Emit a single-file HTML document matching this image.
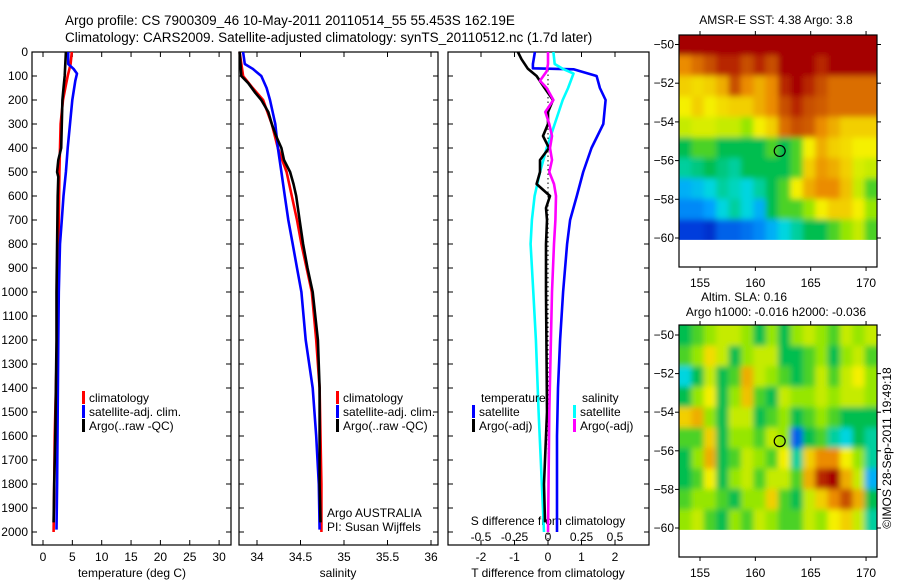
<!DOCTYPE html>
<html><head><meta charset="utf-8"><style>
body{margin:0;background:#fff;width:900px;height:580px;overflow:hidden}
svg{font-family:"Liberation Sans",sans-serif;font-size:12px}
</style></head><body>
<svg id="fig" width="900" height="580" viewBox="0 0 900 580" xmlns="http://www.w3.org/2000/svg">
<defs><filter id="bl" x="-5%" y="-5%" width="110%" height="110%"><feGaussianBlur stdDeviation="3"/></filter></defs>
<text x="65" y="25" font-size="13.5">Argo profile: CS 7900309_46 10-May-2011 20110514_55 55.453S 162.19E</text>
<text x="65" y="42" font-size="13.5">Climatology: CARS2009. Satellite-adjusted climatology: synTS_20110512.nc (1.7d later)</text>
<g id="g"></g>
</svg>
<script>
// ---------- data ----------
const tDepth=[0,50,100,150,200,300,400,500,600,700,800,1000,1200,1400,1600,1800,2000];
const tClim=[4.9,4.7,4.2,3.8,3.4,3.0,2.9,2.8,2.75,2.7,2.65,2.6,2.4,2.2,2.0,1.9,1.8];
const tSatDepth=[0,50,70,90,120,200,300,400,500,600,700,800,1000,1200,1500,1800,1990];
const tSat=[4.3,4.3,5.2,5.8,5.5,5.0,4.6,4.2,3.9,3.5,3.2,2.9,2.7,2.6,2.5,2.4,2.3];
const tArgoDepth=[0,100,150,200,300,400,450,500,520,600,800,1000,1200,1400,1600,1800,1960];
const tArgo=[3.9,3.7,3.5,3.3,3.2,3.1,2.6,2.4,2.6,2.5,2.4,2.3,2.3,2.2,2.1,1.9,1.8];
const sDepth=[0,100,150,200,300,400,500,600,700,800,900,1000,1200,1400,1600,1800,2000];
const sClim=[33.80,33.84,33.95,34.07,34.17,34.24,34.34,34.40,34.46,34.51,34.57,34.63,34.68,34.72,34.73,34.74,34.74];
const sSatDepth=[0,50,70,100,150,200,300,400,500,600,700,800,900,1000,1200,1400,1600,1800,1990];
const sSat=[33.84,33.86,33.95,34.05,34.11,34.15,34.21,34.24,34.28,34.32,34.36,34.41,34.46,34.51,34.56,34.64,34.68,34.71,34.72];
const sArgoDepth=[0,100,130,170,200,250,300,350,400,450,500,550,600,650,700,800,900,1000,1200,1400,1600,1800,1960];
const sArgo=[33.80,33.82,33.90,33.98,34.05,34.13,34.17,34.22,34.28,34.31,34.38,34.42,34.45,34.47,34.49,34.53,34.58,34.64,34.70,34.72,34.72,34.72,34.73];
const dTSatDepth=[0,50,68,72,100,150,200,300,400,500,600,700,800,1000,1200,1400,1600,2000];
const dTSat=[-0.39,-0.45,-0.45,0.76,1.45,1.55,1.72,1.65,1.30,1.05,0.86,0.66,0.57,0.45,0.36,0.30,0.27,0.27];
const dSSatDepth=[0,50,70,90,150,200,300,400,500,600,700,800,1000,1200,1500,2000];
const dSSat=[0.04,0.05,0.11,0.19,0.15,0.11,0.05,-0.01,-0.06,-0.10,-0.12,-0.13,-0.11,-0.09,-0.07,-0.03];
const dTArgoDepth=[0,30,70,100,150,200,250,300,350,400,450,500,550,600,650,700,800,1000,1500,1800,1960];
const dTArgo=[-0.9,-0.79,-0.6,-0.34,-0.1,0.15,0,0,-0.15,0.03,-0.24,-0.24,-0.34,0.06,-0.06,-0.03,-0.06,-0.06,-0.03,-0.12,-0.09];
const dSArgoDepth=[0,50,80,120,150,200,250,300,350,400,450,500,550,600,700,800,1000,1500,2000];
const dSArgo=[0,0,-0.01,-0.06,-0.01,0.04,-0.02,0.01,0.03,0.015,0.03,0.01,0.045,0.06,0.055,0.045,0.03,0.01,0];
const depthTicks=[0,100,200,300,400,500,600,700,800,900,1000,1100,1200,1300,1400,1500,1600,1700,1800,1900,2000];
const tTicks=[0,5,10,15,20,25,30];
const sTicks=[34,34.5,35,35.5,36];
const dTTicks=[-2,-1,0,1,2];
const dSTicks=[-0.5,-0.25,0,0.25,0.5];
const latTicks=[-50,-52,-54,-56,-58,-60];
const lonTicks=[155,160,165,170];
const sstGrid=[
[1,1,1,1,1,1,1,1,1,1,1,1,1,1,1,1],
[0.8,0.85,0.9,0.95,0.95,0.9,0.95,0.9,1,1,1,0.95,1,1,1,1],
[0.7,0.68,0.7,0.75,0.9,0.8,0.75,0.8,0.95,1,0.95,0.9,0.85,0.85,0.85,0.85],
[0.65,0.7,0.65,0.68,0.7,0.7,0.75,0.8,0.9,0.95,0.9,0.88,0.85,0.85,0.85,0.85],
[0.6,0.62,0.62,0.6,0.6,0.55,0.65,0.7,0.85,0.9,0.88,0.8,0.75,0.7,0.7,0.7],
[0.45,0.5,0.5,0.45,0.45,0.45,0.45,0.5,0.45,0.5,0.65,0.75,0.7,0.68,0.65,0.65],
[0.4,0.42,0.45,0.42,0.4,0.45,0.45,0.45,0.45,0.5,0.7,0.78,0.75,0.7,0.62,0.6],
[0.3,0.32,0.35,0.4,0.38,0.35,0.4,0.45,0.5,0.65,0.75,0.8,0.8,0.72,0.6,0.5],
[0.25,0.25,0.28,0.35,0.4,0.35,0.3,0.45,0.5,0.5,0.55,0.65,0.7,0.7,0.65,0.55],
[0.15,0.15,0.12,0.2,0.2,0.22,0.25,0.3,0.35,0.4,0.45,0.45,0.5,0.55,0.6,0.5]];
const slaGrid=[
[0.45,0.5,0.55,0.6,0.6,0.55,0.45,0.55,0.45,0.55,0.6,0.55,0.5,0.6,0.55,0.6],
[0.5,0.55,0.68,0.6,0.45,0.55,0.6,0.6,0.45,0.45,0.5,0.55,0.45,0.55,0.6,0.5],
[0.35,0.45,0.6,0.45,0.5,0.75,0.6,0.55,0.5,0.45,0.5,0.6,0.5,0.6,0.65,0.55],
[0.45,0.55,0.65,0.45,0.55,0.72,0.5,0.45,0.6,0.55,0.55,0.6,0.55,0.6,0.6,0.55],
[0.7,0.75,0.55,0.45,0.6,0.6,0.45,0.5,0.55,0.45,0.5,0.55,0.5,0.45,0.45,0.45],
[0.5,0.5,0.7,0.45,0.55,0.55,0.5,0.6,0.55,0.2,0.45,0.5,0.4,0.35,0.45,0.4],
[0.45,0.55,0.75,0.45,0.5,0.6,0.55,0.5,0.65,0.4,0.7,0.8,0.8,0.65,0.55,0.4],
[0.45,0.5,0.65,0.45,0.55,0.6,0.5,0.6,0.6,0.5,0.75,0.95,1,0.75,0.6,0.3],
[0.5,0.55,0.55,0.5,0.45,0.55,0.55,0.7,0.5,0.45,0.6,0.7,0.8,0.9,0.75,0.45],
[0.55,0.6,0.5,0.45,0.55,0.5,0.6,0.55,0.5,0.5,0.6,0.55,0.65,0.7,0.6,0.4]];
const argoPos=[162.2,-55.5];

// ---------- drawing ----------
const NS='http://www.w3.org/2000/svg';
const G=document.getElementById('g');
const DEFS=document.querySelector('defs');
function mk(tag,at,parent){const e=document.createElementNS(NS,tag);for(const k in at)e.setAttribute(k,at[k]);(parent||G).appendChild(e);return e;}
const Y0=52,YK=0.24,BOT=545,TOP=52;
const yD=d=>Y0+d*YK;
const xT=v=>43+v*5.87;
const xS=v=>257+(v-34)*87;
const xDT=v=>548+v*33.5;
const xDS=v=>548+v*134;
const panels=[[32,231],[239,438],[448,649]];
panels.forEach((p,i)=>{
  const r=mk('rect',{x:p[0],y:TOP,width:p[1]-p[0],height:BOT-TOP,fill:'none',stroke:'#000','stroke-width':1.2});
  
  
  depthTicks.forEach(d=>{
    mk('line',{x1:p[0],x2:p[0]+5,y1:yD(d),y2:yD(d),stroke:'#000'});
    mk('line',{x1:p[1],x2:p[1]-5,y1:yD(d),y2:yD(d),stroke:'#000'});
  });
});
depthTicks.forEach(d=>{
  const t=mk('text',{x:28,y:yD(d)+4,'text-anchor':'end'});t.textContent=d;
  
  
});
function xaxis(ticks,fx,ly,fmt,withTicks){
  ticks.forEach(v=>{
    const x=fx(v);
    if(withTicks){mk('line',{x1:x,x2:x,y1:BOT,y2:BOT-5,stroke:'#000'});mk('line',{x1:x,x2:x,y1:TOP,y2:TOP+5,stroke:'#000'});}
    const t=mk('text',{x:x,y:ly,'text-anchor':'middle'});t.textContent=fmt(v);
    
    
  });
}
xaxis(tTicks,xT,561,v=>v,true);
xaxis(sTicks,xS,561,v=>v,true);
xaxis(dTTicks,xDT,561,v=>v,true);
xaxis(dSTicks,xDS,541,v=>v,false);
function lbl(x,y,s,name,anchor){const t=mk('text',{x:x,y:y,'text-anchor':anchor||'start'});t.textContent=s;
  
  return t;}
lbl(132,577,'temperature (deg C)','x-axis-title-temperature','middle');
lbl(338,577,'salinity','x-axis-title-salinity','middle');
lbl(548,577,'T difference from climatology','x-axis-title-t-diff','middle');
lbl(548,525,'S difference from climatology','x-axis-title-s-diff','middle');
const z=mk('line',{x1:548,x2:548,y1:TOP,y2:BOT,stroke:'#000','stroke-dasharray':'1.5,3'});


function line(depths,vals,fx,col,name){
  const pts=depths.map((d,i)=>fx(vals[i]).toFixed(1)+','+yD(d).toFixed(1)).join(' ');
  const l=mk('polyline',{points:pts,fill:'none',stroke:col,'stroke-width':2.6,'stroke-linejoin':'round'});
  
  
}
line(tDepth,tClim,xT,'#f00','temp-climatology-line');
line(tSatDepth,tSat,xT,'#00f','temp-satellite-line');
line(tArgoDepth,tArgo,xT,'#000','temp-argo-line');
line(sDepth,sClim,xS,'#f00','sal-climatology-line');
line(sSatDepth,sSat,xS,'#00f','sal-satellite-line');
line(sArgoDepth,sArgo,xS,'#000','sal-argo-line');
line(dTSatDepth,dTSat,xDT,'#00f','tdiff-satellite-line');
line(dSSatDepth,dSSat,xDS,'#0ff','sdiff-satellite-line');
line(dTArgoDepth,dTArgo,xDT,'#000','tdiff-argo-line');
line(dSArgoDepth,dSArgo,xDS,'#f0f','sdiff-argo-line');
function leg(x,y,col,s){const r=mk('rect',{x:x,y:y-11,width:3,height:13,fill:col});
  
  
  lbl(x+7,y,s,'legend-entry');}
[[82,'climatology','#f00'],[82,'satellite-adj. clim.','#00f'],[82,'Argo(..raw -QC)','#000']].forEach((e,i)=>leg(e[0],402+i*14,e[2],e[1]));
[[336,'climatology','#f00'],[336,'satellite-adj. clim.','#00f'],[336,'Argo(..raw -QC)','#000']].forEach((e,i)=>leg(e[0],402+i*14,e[2],e[1]));
lbl(481,402,'temperature','legend-title-temperature');
leg(472,416,'#00f','satellite');leg(472,430,'#000','Argo(-adj)');
lbl(582,402,'salinity','legend-title-salinity');
leg(573,416,'#0ff','satellite');leg(573,430,'#f0f','Argo(-adj)');
lbl(327,517,'Argo AUSTRALIA','credit-argo-australia');
lbl(327,531,'PI: Susan Wijffels','credit-pi');

// colormap
const cmStops=[[0,[0,0,150]],[0.15,[0,60,220]],[0.28,[0,160,255]],[0.36,[0,220,220]],[0.45,[0,190,80]],[0.55,[150,230,0]],[0.65,[245,240,0]],[0.8,[235,140,0]],[0.9,[200,80,0]],[1,[165,0,0]]];
function cmap(v){v=Math.max(0,Math.min(1,v));
  for(let i=1;i<cmStops.length;i++){const a=cmStops[i-1],b=cmStops[i];
    if(v<=b[0]){const t=(v-a[0])/(b[0]-a[0]);return 'rgb('+a[1].map((c,k)=>Math.round(c+(b[1][k]-c)*t)).join(',')+')';}}
  return 'rgb(165,0,0)';}
function map(grid,box,lat50,lat60,name){
  const [x0,y0,x1,y1]=box;
  const lonX=l=>700+(l-155)*11.07;
  const latY=l=>lat50+(l+50)*(lat50-lat60)/10;
  const gx0=lonX(153.1),gx1=lonX(171),gy0=latY(-49.5),gy1=latY(-60.1);
  const rows=grid.length,cols=grid[0].length,cw=(gx1-gx0)/cols,ch=(gy1-gy0)/rows;
  const cp=mk('clipPath',{id:'cp-'+name},DEFS);
  mk('rect',{x:x0,y:gy0,width:x1-x0,height:gy1-gy0},cp);
  const outer=mk('g',{'clip-path':'url(#cp-'+name+')'});
  const g=mk('g',{filter:'url(#bl)'},outer);
  
  
  grid.forEach((row,ri)=>row.forEach((v,ci)=>{
    const ex=6;
    const x=gx0+ci*cw-(ci===0?ex:0), y=gy0+ri*ch-(ri===0?ex:0);
    const w=cw+0.6+(ci===0?ex:0)+(ci===cols-1?ex:0), h=ch+0.6+(ri===0?ex:0)+(ri===rows-1?ex:0);
    mk('rect',{x:x.toFixed(1),y:y.toFixed(1),width:w.toFixed(1),height:h.toFixed(1),fill:cmap(v)},g);
  }));
  const f=mk('rect',{x:x0,y:y0,width:x1-x0,height:y1-y0,fill:'none',stroke:'#000','stroke-width':1.2});
  
  
  latTicks.forEach(l=>{const y=latY(l);
    mk('line',{x1:x0,x2:x0-4,y1:y,y2:y,stroke:'#000'});mk('line',{x1:x1,x2:x1+4,y1:y,y2:y,stroke:'#000'});
    lbl(x0-5,y+4,String(l).replace('-','\u2212'),'lat-tick-label','end');});
  lonTicks.forEach(l=>{const x=lonX(l);
    mk('line',{x1:x,x2:x,y1:y1,y2:y1+4,stroke:'#000'});mk('line',{x1:x,x2:x,y1:y0,y2:y0-4,stroke:'#000'});
    lbl(x,y1+20,String(l),'lon-tick-label','middle');});
  const c=mk('circle',{cx:lonX(argoPos[0]),cy:latY(argoPos[1]),r:5.5,fill:'none',stroke:'#000','stroke-width':1.2});
  
  
}
map(sstGrid,[679,35,877,267],44.5,238,'sst-map');
map(slaGrid,[679,325,877,557],335,528,'sla-map');
lbl(776,24,'AMSR-E SST: 4.38 Argo: 3.8','sst-map-title','middle');
lbl(744,301,'Altim. SLA: 0.16','sla-map-title','middle');
lbl(776,316,'Argo h1000: -0.016 h2000: -0.036','sla-map-subtitle','middle');
const ts=lbl(0,0,'\u00a9IMOS 28-Sep-2011 19:49:18','timestamp','middle');
ts.setAttribute('transform','translate(891,448) rotate(-90)');
</script>
</body></html>
